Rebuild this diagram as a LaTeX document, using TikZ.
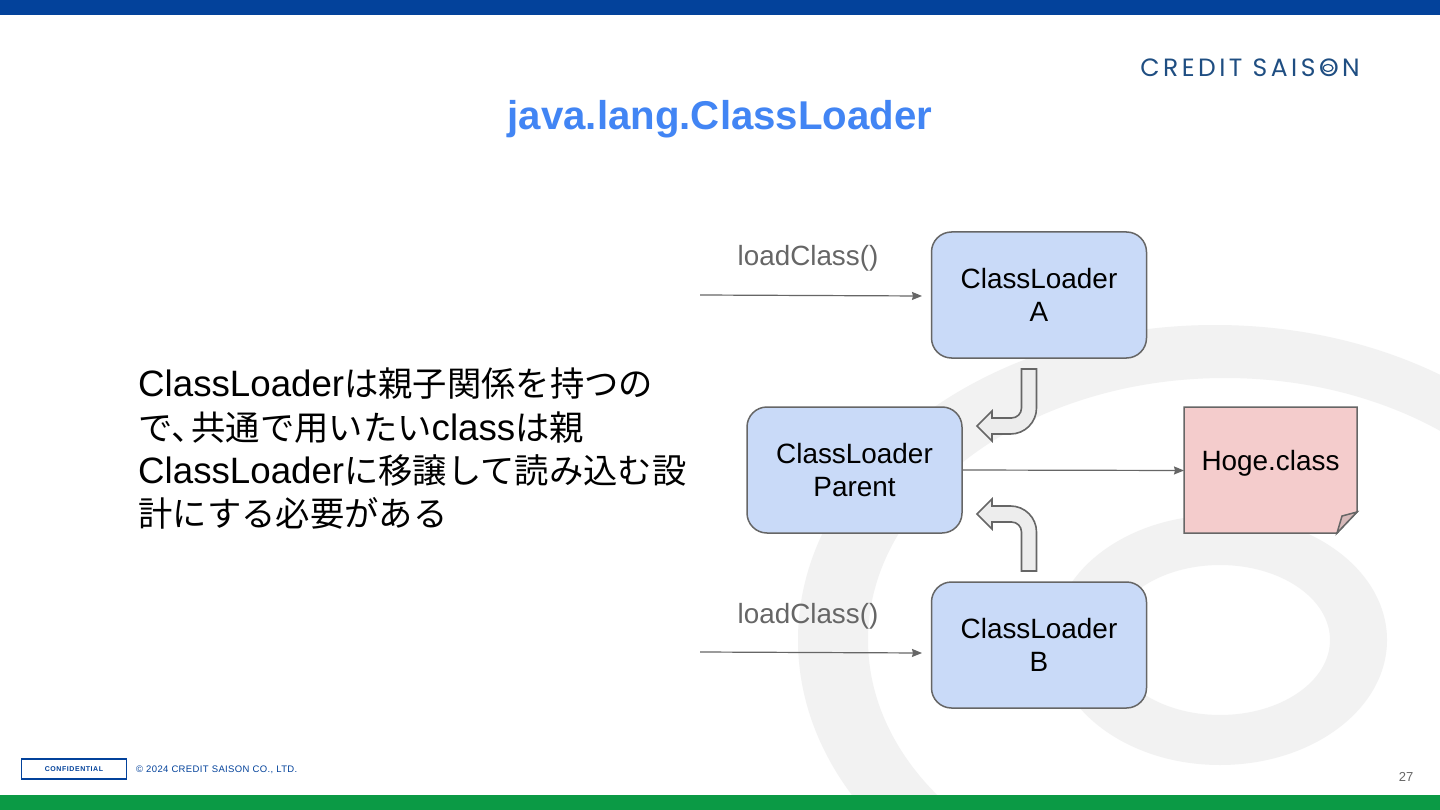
\documentclass[tikz,border=0pt]{standalone}
\usepackage{fontspec}
\setmainfont{Liberation Sans}
\newfontfamily\cjk[Scale=0.935]{Noto Sans CJK JP}
\newfontfamily\logofont[LetterSpace=14]{Poppins}
\usetikzlibrary{arrows.meta}
\definecolor{barblue}{HTML}{03429B}
\definecolor{bargreen}{HTML}{0B9A45}
\definecolor{titleblue}{HTML}{4285F4}
\definecolor{boxblue}{HTML}{C9DAF8}
\definecolor{notepink}{HTML}{F4CCCC}
\definecolor{linegray}{HTML}{666666}
\definecolor{wm}{HTML}{F2F2F2}
\definecolor{navy}{HTML}{1F4E82}
\tikzset{
 x=1pt,y=-1pt,
 loader/.style={draw=linegray,line width=1.5pt,fill=boxblue,rounded corners=20pt,minimum width=215pt,minimum height=126pt,align=center,font=\fontsize{27.9}{33}\selectfont,text=black},
 conn/.style={draw=linegray,line width=1.2pt,-{Stealth[length=10pt,width=8pt,inset=1pt]}},
 bent/.style={draw=linegray,line width=1.6pt,fill=white!93!black,line join=miter},
 lbl/.style={font=\fontsize{27.8}{33}\selectfont,text=linegray},
}
\begin{document}
\begin{tikzpicture}
\useasboundingbox (0,0) rectangle (1440,810);
\fill[white] (0,0) rectangle (1440,810);
% watermark
\begin{scope}
\clip (0,0) rectangle (1440,810);
\fill[wm,even odd rule] (1215,640) ellipse [x radius=417,y radius=315] (1225,640) ellipse [x radius=357,y radius=262];
\fill[wm,even odd rule] (1220,640) ellipse [x radius=167,y radius=125] (1220,640) ellipse [x radius=110,y radius=75];
\end{scope}
\fill[barblue] (0,0) rectangle (1440,15);
\fill[bargreen] (0,795) rectangle (1440,810);
\node[font=\bfseries\fontsize{40.2}{48}\selectfont,text=titleblue] (title) at (720,119) {java.lang.ClassLoader};
\node[font=\logofont\fontsize{25}{30}\selectfont,text=navy] (logo) at (1250,68) {CREDIT SAISON};
\draw[navy,line width=1.2pt] (1328,68) ellipse [x radius=5,y radius=3.5];
\node[anchor=north west,inner sep=0pt,font=\fontsize{36.7}{43.2}\selectfont,align=left,text=black] (body) at (138,368) {ClassLoader{\cjk は親子関係を持つの}\\{\cjk で、\kern-14pt 共通で用いたい}class{\cjk は親}\\ClassLoader{\cjk に移譲して読み込む設}\\{\cjk 計にする必要がある}};
\node[loader] (a) at (1039,295) {ClassLoader\\A};
\node[loader] (p) at (854.5,470) {ClassLoader\\Parent};
\node[loader] (b) at (1039,645) {ClassLoader\\B};
% note
\path[draw=linegray,line width=1.5pt,fill=notepink] (1184,407) -- (1357,407) -- (1357,512) -- (1337,533) -- (1184,533) -- cycle;
\path[draw=linegray,line width=1.5pt,fill=notepink!75!gray] (1357,512) -- (1342,516) -- (1337,533) -- cycle;
\node[font=\fontsize{27.9}{33}\selectfont,text=black] (hoge) at (1270.5,463.5) {Hoge.class};
\coordinate (s1) at (700,295);
\coordinate (s2) at (700,652);
\coordinate (e1) at (922,296);
\coordinate (e2) at (922,653);
\coordinate (hl) at (1184,470.5);
\draw[conn] (s1) -- (e1);
\draw[conn] (s2) -- (e2);
\draw[conn] (p.east) -- (hl);
\node[lbl] (l1) at (808,258) {loadClass()};
\node[lbl] (l2) at (808,616) {loadClass()};
% bent arrows
\path[bent] (1021.5,369) -- (1036.5,369) -- (1036.5,408) arc[start angle=0,end angle=90,radius=26] -- (992,434) -- (992,441) -- (977,426) -- (992,411) -- (992,418) -- (1011.5,418) arc[start angle=90,end angle=0,radius=10] -- cycle;
\path[bent] (1021.5,571) -- (1036.5,571) -- (1036.5,532) arc[start angle=0,end angle=-90,radius=26] -- (992,506) -- (992,499) -- (977,514) -- (992,529) -- (992,522) -- (1011.5,522) arc[start angle=-90,end angle=0,radius=10] -- cycle;
% footer
\node[draw=barblue,line width=1.2pt,minimum width=105pt,minimum height=20pt,inner sep=0pt,font=\bfseries\fontsize{7}{9}\selectfont\addfontfeatures{LetterSpace=8},text=barblue] (conf) at (74,769) {CONFIDENTIAL};
\node[anchor=west,inner sep=0pt,font=\fontsize{9.5}{11}\selectfont\addfontfeatures{LetterSpace=4},text=barblue] (copy) at (136,769.5) {© 2024 CREDIT SAISON CO., LTD.};
\node[font=\fontsize{13}{15}\selectfont,text=linegray] (pg) at (1406,777) {27};
\end{tikzpicture}
\end{document}
